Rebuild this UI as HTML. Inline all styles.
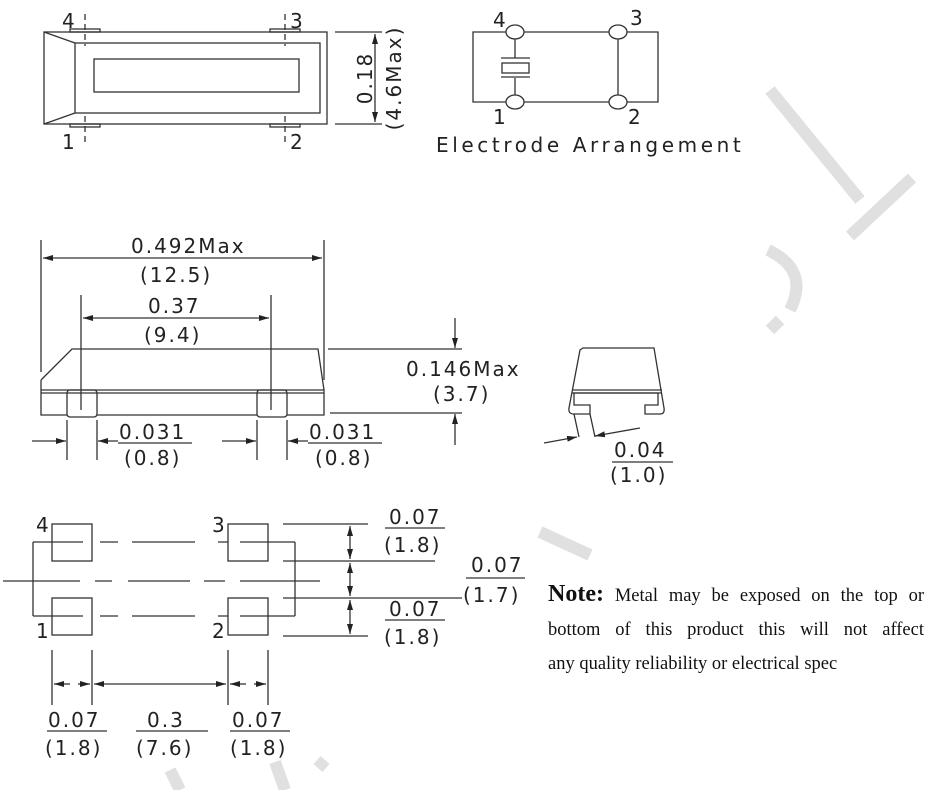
<!DOCTYPE html>
<html><head><meta charset="utf-8"><style>
body{margin:0;background:#fff;width:944px;height:790px;overflow:hidden;position:relative}
svg{position:absolute;left:0;top:0}
svg text{font-family:"DejaVu Sans","Liberation Sans",sans-serif;font-size:20px;fill:#222;letter-spacing:2px}
.note{position:absolute;left:548px;top:577px;width:376px;font-family:"Liberation Serif",serif;font-size:18.5px;line-height:34px;color:#111}
.note div.j{text-align:justify;text-align-last:justify}
.note b{font-size:24px}
</style></head><body>
<svg width="944" height="790" viewBox="0 0 944 790">
<defs><marker id="a" viewBox="0 0 10 6" refX="10" refY="3" markerWidth="10" markerHeight="6" orient="auto-start-reverse" markerUnits="userSpaceOnUse"><path d="M0,0L10,3L0,6z" fill="#222"/></marker></defs>
<g stroke="#e0e0e0" stroke-width="12" fill="none">
<path d="M770,90 L860,200"/><path d="M912,178 L850,236"/>
<path d="M768,250 Q810,270 790,310 M780,320 L770,330"/>
<path d="M540,532 L590,555"/>
<path d="M170,770 L180,790 M275,762 L285,790 M318,768 L325,760"/>
</g>
<g stroke="#333" stroke-width="1.3" fill="none">
<rect x="44" y="32" width="283" height="92"/>
<rect x="75" y="43" width="245" height="70"/>
<rect x="94" y="59" width="205" height="33"/>
<path d="M44,32L75,43M44,124L75,113"/>
<rect x="70" y="29" width="30" height="3"/><rect x="270" y="29" width="30" height="3"/>
<rect x="70" y="124" width="30" height="3"/><rect x="270" y="124" width="30" height="3"/>
<path d="M85,14V46M85,116V146M285,14V46M285,116V146" stroke-dasharray="6,4"/>
<path d="M335,32H382M335,124H382"/>
<path d="M375,34V122" marker-start="url(#a)" marker-end="url(#a)"/>
<path d="M506,32H473V102H506M524,32H609M627,32H658V102H627M609,102H524M618,39V95"/>
<path d="M515,39V58M515,78V95M501,58H530M501,77H530"/>
<rect x="502" y="63" width="27" height="10"/>
<ellipse cx="515" cy="32" rx="9" ry="7"/><ellipse cx="618" cy="32" rx="9" ry="7"/>
<ellipse cx="515" cy="102" rx="9" ry="7"/><ellipse cx="618" cy="102" rx="9" ry="7"/>
<path d="M41,380L72,349H318L324,390M41,380V415H67M97,415H257M287,415H324V390H41M41,393H324"/>
<rect x="67" y="390" width="30" height="27" rx="3"/><rect x="257" y="390" width="30" height="27" rx="3"/>
<path d="M41,240V372M324,240V380M81,295V410M271,295V410"/>
<path d="M43,258H322" marker-start="url(#a)" marker-end="url(#a)"/>
<path d="M83,318H269" marker-start="url(#a)" marker-end="url(#a)"/>
<path d="M328,349H462M330,413H462"/>
<path d="M455,318V348" marker-end="url(#a)"/><path d="M455,445V414" marker-end="url(#a)"/>
<path d="M67,420V460M97,420V460M257,420V460M287,420V460"/>
<path d="M32,441H66" marker-end="url(#a)"/><path d="M118,441H98" marker-end="url(#a)"/>
<path d="M222,441H256" marker-end="url(#a)"/><path d="M308,441H288" marker-end="url(#a)"/>
<path d="M118,443H192M308,443H382M612,462H673"/>
<path d="M583,348H654L664,408Q665,414 660,414H645V405H658V393H574V405H590V414H574Q568,414 569,408L580,350Z"/>
<path d="M572,390H662M572,393H662"/>
<path d="M574,414L579,437M590,414L595,437"/>
<path d="M544,443L577,437" marker-end="url(#a)"/><path d="M640,428L595,436" marker-end="url(#a)"/>
<rect x="52" y="524" width="40" height="37"/><rect x="52" y="598" width="40" height="37"/>
<rect x="228" y="524" width="40" height="37"/><rect x="228" y="598" width="40" height="37"/>
<path d="M33,542V616M33,542H83M33,616H83M295,542V616M240,542H295M240,616H295M218,542H228M218,616H228"/>
<path d="M100,542H118M132,542H195M100,616H118M132,616H195"/>
<path d="M3,581H80M95,581H112M128,581H190M204,581H225M240,581H320"/>
<path d="M283,524H368M283,561H435M283,598H462M283,636H368"/>
<path d="M350,526V559" marker-start="url(#a)" marker-end="url(#a)"/>
<path d="M350,563V596" marker-start="url(#a)" marker-end="url(#a)"/>
<path d="M350,600V634" marker-start="url(#a)" marker-end="url(#a)"/>
<path d="M385,528H445M385,620H445M466,578H525"/>
<path d="M52,650V705M92,650V705M228,650V705M268,650V705"/>
<path d="M70,684H54" marker-end="url(#a)"/><path d="M78,684H90" marker-end="url(#a)"/>
<path d="M94,684H226" marker-start="url(#a)" marker-end="url(#a)"/>
<path d="M246,684H230" marker-end="url(#a)"/><path d="M254,684H266" marker-end="url(#a)"/>
<path d="M47,731H107M136,731H208M230,731H290"/>
</g>
<text x="62" y="28">4</text><text x="290" y="28">3</text>
<text x="62" y="149">1</text><text x="290" y="149">2</text>
<text transform="translate(372,78) rotate(-90)" text-anchor="middle">0.18</text>
<text transform="translate(401,78) rotate(-90)" text-anchor="middle">(4.6Max)</text>
<text x="493" y="27">4</text><text x="630" y="25">3</text>
<text x="493" y="124">1</text><text x="628" y="124">2</text>
<text x="436" y="152" style="letter-spacing:3.6px">Electrode  Arrangement</text>
<text x="131" y="253">0.492Max</text><text x="140" y="282">(12.5)</text>
<text x="148" y="313">0.37</text><text x="144" y="342">(9.4)</text>
<text x="406" y="376">0.146Max</text><text x="433" y="401">(3.7)</text>
<text x="119" y="439">0.031</text><text x="124" y="465">(0.8)</text>
<text x="309" y="439">0.031</text><text x="315" y="465">(0.8)</text>
<text x="614" y="457">0.04</text><text x="610" y="482">(1.0)</text>
<text x="36" y="532">4</text><text x="36" y="638">1</text>
<text x="212" y="532">3</text><text x="212" y="638">2</text>
<text x="389" y="524">0.07</text><text x="384" y="552">(1.8)</text>
<text x="471" y="572">0.07</text><text x="463" y="602">(1.7)</text>
<text x="389" y="616">0.07</text><text x="384" y="644">(1.8)</text>
<text x="48" y="727">0.07</text><text x="45" y="755">(1.8)</text>
<text x="147" y="727">0.3</text><text x="136" y="755">(7.6)</text>
<text x="232" y="727">0.07</text><text x="230" y="755">(1.8)</text>
</svg>
<div class="note"><div class="j"><b>Note:</b> Metal may be exposed on the top or</div><div class="j">bottom of this product this will not affect</div><div>any quality reliability or electrical spec</div></div>
</body></html>
